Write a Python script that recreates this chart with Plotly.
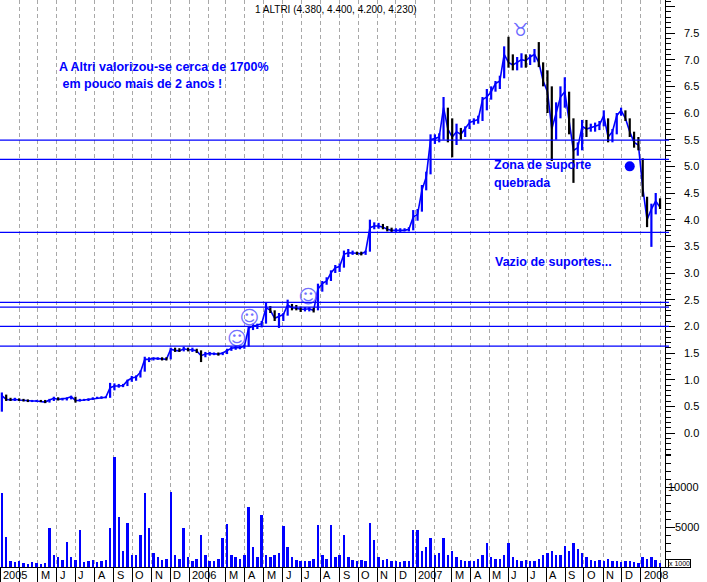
import plotly.graph_objects as go
import pandas as pd

# ---------------- data (weekly) ----------------
start_week = "2005-03-04"

high_2005 = [0.76,0.72,0.66,0.66,0.65,0.64,0.63,0.62,0.62,0.62,0.62,0.64,0.68,0.67,0.66,0.67,0.70,0.68,0.64,0.64,0.65,0.67,
             0.68,0.69,0.69,0.94,0.93,0.92,0.92,1.00,1.07,1.08,1.17,1.43,1.42,1.42,1.42,1.42,1.42,1.60,1.60,1.59,1.62,1.60]
low_2005 = [0.40,0.60,0.60,0.60,0.60,0.59,0.58,0.58,0.58,0.58,0.56,0.57,0.60,0.61,0.61,0.61,0.63,0.57,0.59,0.60,0.60,0.62,
            0.64,0.64,0.65,0.66,0.80,0.85,0.86,0.88,0.96,0.98,1.04,1.15,1.33,1.36,1.37,1.36,1.36,1.38,1.52,1.52,1.53,1.53]
close_2005 = [0.70,0.63,0.62,0.63,0.62,0.61,0.60,0.60,0.60,0.59,0.58,0.62,0.65,0.63,0.64,0.65,0.68,0.61,0.61,0.62,0.63,0.65,
              0.66,0.67,0.67,0.85,0.88,0.88,0.89,0.98,1.03,1.05,1.14,1.38,1.38,1.40,1.40,1.39,1.38,1.57,1.55,1.54,1.58,1.56]

high_2006 = [1.60,1.58,1.55,1.52,1.52,1.51,1.51,1.52,1.58,1.62,1.63,1.63,1.66,2.00,2.05,2.05,2.10,2.45,2.38,2.30,2.25,2.25,
             2.50,2.42,2.40,2.37,2.36,2.36,2.35,2.80,2.85,2.92,3.05,3.15,3.18,3.42,3.45,3.42,3.40,3.40,3.42,4.00,3.95,3.94,
             3.92,3.88,3.85,3.84,3.84,3.84,3.86,4.18]
low_2006 = [1.52,1.50,1.33,1.42,1.45,1.46,1.45,1.46,1.48,1.54,1.56,1.57,1.58,1.62,1.93,1.95,1.98,2.05,2.25,2.10,1.97,2.10,
            2.20,2.30,2.30,2.27,2.28,2.28,2.26,2.30,2.65,2.78,2.85,3.00,3.02,3.10,3.30,3.34,3.34,3.33,3.34,3.40,3.82,3.83,
            3.82,3.78,3.77,3.77,3.77,3.78,3.78,3.80]
close_2006 = [1.56,1.54,1.45,1.48,1.49,1.49,1.48,1.50,1.55,1.59,1.60,1.60,1.63,1.97,2.00,2.02,2.05,2.35,2.30,2.15,2.18,2.22,
              2.40,2.35,2.34,2.32,2.32,2.33,2.30,2.70,2.80,2.85,3.00,3.10,3.12,3.35,3.38,3.38,3.37,3.36,3.40,3.85,3.88,3.88,
              3.86,3.82,3.80,3.80,3.80,3.80,3.82,4.05]

high_2007 = [4.20,4.65,4.90,5.60,5.60,5.62,6.30,6.10,5.90,5.80,5.72,5.75,5.88,5.90,5.95,6.30,6.45,6.50,6.60,6.70,7.25,7.43,
             7.10,7.05,7.12,7.10,7.10,7.20,7.33,6.95,6.80,6.50,6.20,6.50,6.67,6.40,5.90,5.45,5.87,5.87,5.80,5.82,5.85,6.05,
             5.90,5.70,6.00,6.10,6.05,5.90,5.65,5.55]
low_2007 = [3.98,4.15,4.55,4.85,5.42,5.45,5.50,5.45,5.17,5.40,5.50,5.55,5.70,5.78,5.80,5.85,6.05,6.25,6.40,6.45,6.65,6.85,
            6.80,6.80,6.85,6.85,6.90,6.95,6.86,6.50,6.00,5.10,5.50,5.90,6.10,5.60,4.69,5.20,5.30,5.55,5.65,5.65,5.68,5.75,
            5.45,5.45,5.60,5.95,5.85,5.55,5.35,5.30]
close_2007 = [4.10,4.55,4.80,5.50,5.52,5.55,6.10,5.70,5.55,5.65,5.60,5.70,5.82,5.85,5.88,6.25,6.30,6.40,6.55,6.60,7.10,6.95,
              6.90,6.95,7.00,6.98,7.05,7.10,6.95,6.60,6.40,5.70,6.00,6.30,6.40,5.80,5.30,5.35,5.75,5.70,5.72,5.75,5.78,5.95,
              5.55,5.65,5.95,6.05,5.90,5.65,5.45,5.40]

high_2008 = [5.15,4.43,4.30,4.50,4.40]
low_2008 = [4.43,3.86,3.49,4.10,4.20]
close_2008 = [4.60,4.00,4.20,4.35,4.23]

vol_2005 = [9200,3800,800,600,700,500,400,600,500,400,500,4900,1500,1200,900,3100,1200,900,4600,600,700,900,
            600,800,900,4900,13700,6300,2000,5500,1500,1500,4000,9200,4900,1800,1200,900,1000,9400,1500,1000,4900,1200]
vol_2006 = [800,1000,4000,1500,800,700,1000,3600,5400,1500,1200,1000,1500,7500,2500,1200,6500,1500,1200,1500,1800,5100,
            2500,1200,900,800,800,700,1000,5300,1500,1000,5300,1200,1500,4000,1200,900,800,900,800,5500,3400,1200,
            900,1000,800,700,600,700,800,4600]
vol_2007 = [4600,2000,2500,3600,1500,1800,3600,1500,2000,1200,900,800,700,800,1000,1500,3000,1200,1000,1000,1500,3000,
            1200,900,800,900,800,700,1000,1500,1800,2000,1500,1500,2600,2000,3000,2200,1800,1200,900,800,900,700,
            1000,800,700,600,700,800,600,500]
vol_2008 = [1300,1000,1300,900,500]

support_levels = [5.49, 5.13, 3.76, 2.45, 2.36, 2.00, 1.63]

month_labels = ["2005", "", "M", "J", "J", "A", "S", "O", "N", "D",
                "2006", "", "M", "A", "M", "J", "J", "A", "S", "O", "N", "D",
                "2007", "", "M", "A", "M", "J", "J", "A", "S", "O", "N", "D",
                "2008", ""]
price_tick_vals = [0.0, 0.5, 1.0, 1.5, 2.0, 2.5, 3.0, 3.5, 4.0, 4.5, 5.0, 5.5, 6.0, 6.5, 7.0, 7.5]
vol_tick_vals = [5000, 10000]

smiley_dates = ["2006-03-19", "2006-04-08", "2006-07-12"]
smiley_prices = [1.74, 2.14, 2.52]
bull_date = ["2007-06-20"]
bull_price = [7.52]
dot_date = ["2007-12-14"]
dot_price = [5.0]

title_text = "1 ALTRI (4.380, 4.400, 4.200, 4.230)"

# ---------------- assemble ----------------
high = high_2005 + high_2006 + high_2007 + high_2008
low = low_2005 + low_2006 + low_2007 + low_2008
close = close_2005 + close_2006 + close_2007 + close_2008
vol = vol_2005 + vol_2006 + vol_2007 + vol_2008
n = len(close)
assert len(high) == n and len(low) == n and len(vol) == n
dates = pd.date_range(start_week, periods=n, freq="7D")
months = pd.date_range("2005-03-01", "2008-02-01", freq="MS")
assert len(months) == len(month_labels)

BLUE = "#0000ff"
up_x, up_y, dn_x, dn_y = [], [], [], []
for i in range(n):
    prev = close[i - 1] if i > 0 else low[i]
    if close[i] >= prev:
        up_x += [dates[i], dates[i], None]
        up_y += [low[i], high[i], None]
    else:
        dn_x += [dates[i], dates[i], None]
        dn_y += [low[i], high[i], None]

fig = go.Figure()
fig.add_trace(go.Scatter(x=dates, y=close, mode="lines", line=dict(color=BLUE, width=1.6),
                         xaxis="x", yaxis="y", hoverinfo="skip"))
fig.add_trace(go.Scatter(x=up_x, y=up_y, mode="lines", line=dict(color=BLUE, width=2.2),
                         xaxis="x", yaxis="y", hoverinfo="skip"))
fig.add_trace(go.Scatter(x=dn_x, y=dn_y, mode="lines", line=dict(color="#000000", width=2.2),
                         xaxis="x", yaxis="y", hoverinfo="skip"))
fig.add_trace(go.Bar(x=dates, y=vol, marker=dict(color=BLUE, line=dict(width=0)),
                     width=4 * 86400000, xaxis="x", yaxis="y2", hoverinfo="skip"))
fig.add_trace(go.Scatter(x=smiley_dates, y=smiley_prices, mode="text", text=["☺"] * len(smiley_dates),
                         textfont=dict(size=19, color="#7070ff", family="DejaVu Sans"),
                         xaxis="x", yaxis="y", hoverinfo="skip"))
fig.add_trace(go.Scatter(x=bull_date, y=bull_price, mode="text", text=["♉"],
                         textfont=dict(size=18, color="#6a6aff", family="DejaVu Sans"),
                         xaxis="x", yaxis="y", hoverinfo="skip"))
fig.add_trace(go.Scatter(x=dot_date, y=dot_price, mode="markers",
                         marker=dict(color=BLUE, size=10),
                         xaxis="x", yaxis="y", hoverinfo="skip"))

shapes = []
for lv in support_levels:
    shapes.append(dict(type="line", xref="paper", yref="y", x0=0, x1=1.006, y0=lv, y1=lv,
                       line=dict(color=BLUE, width=1.3), layer="above"))

FONT = "Liberation Sans, Arial, sans-serif"
annotations = []
for d, lab in zip(months, month_labels):
    if lab:
        annotations.append(dict(x=d, xref="x", y=-0.0145, yref="paper", text=lab, showarrow=False,
                                xanchor="left", yanchor="middle", xshift=1,
                                font=dict(family=FONT, size=11, color="black")))
for v in price_tick_vals:
    annotations.append(dict(x=1.054, xref="paper", y=v, yref="y", text=f"{v:.1f}", showarrow=False,
                            xanchor="right", yanchor="middle",
                            font=dict(family=FONT, size=11, color="black")))
for v in vol_tick_vals:
    annotations.append(dict(x=1.054, xref="paper", y=v, yref="y2", text=f"{v}", showarrow=False,
                            xanchor="right", yanchor="middle",
                            font=dict(family=FONT, size=11, color="black")))
annotations.append(dict(x=1.004, xref="paper", y=0.007, yref="paper", text="x 1000", showarrow=False,
                        xanchor="left", yanchor="middle", bordercolor="black", borderwidth=1, borderpad=0,
                        bgcolor="white", font=dict(family=FONT, size=7, color="black")))
annotations.append(dict(x=0.505, xref="paper", y=0.984, yref="paper", text=title_text, showarrow=False,
                        xanchor="center", yanchor="middle",
                        font=dict(family=FONT, size=10, color="black")))

txt_font = dict(family=FONT, size=12.5, color=BLUE)
for txt, px, py in [("<b>A Altri valorizou-se cerca de 1700%</b>", 57, 67),
                    ("<b> em pouco mais de 2 anos !</b>", 57, 84),
                    ("<b>Zona de suporte</b>", 492, 165),
                    ("<b>quebrada</b>", 492, 183),
                    ("<b>Vazio de suportes...</b>", 493, 262)]:
    annotations.append(dict(x=px / 665, xref="paper", y=(567 - py) / 567, yref="paper", text=txt,
                            showarrow=False, xanchor="left", yanchor="middle", font=txt_font))

vdom = (567 - 455) / 567
fig.update_layout(
    width=707, height=582,
    margin=dict(l=0, r=42, t=0, b=15),
    paper_bgcolor="white", plot_bgcolor="white",
    showlegend=False, bargap=0,
    xaxis=dict(type="date", range=["2005-03-01", "2008-02-09"], anchor="y2",
               showgrid=True, gridcolor="#a8a8a8", griddash="4px,3px", gridwidth=1,
               tick0="2005-03-01", dtick="M1", ticks="outside", ticklen=15, tickcolor="black",
               showticklabels=False, showline=True, linecolor="black", linewidth=1, zeroline=False),
    yaxis=dict(domain=[vdom, 1], range=[-0.4125, 8.119], side="right", anchor="x",
               showgrid=False, zeroline=False, showticklabels=False,
               ticks="outside", ticklen=9, tick0=0, dtick=0.5, tickcolor="black",
               minor=dict(ticks="outside", ticklen=5, dtick=0.1, tickcolor="black", showgrid=False),
               showline=True, linecolor="black", linewidth=1),
    yaxis2=dict(domain=[0, vdom], range=[0, 14000], side="right", anchor="x",
                showgrid=False, zeroline=False, showticklabels=False,
                ticks="outside", ticklen=9, tick0=0, dtick=5000, tickcolor="black",
                minor=dict(ticks="outside", ticklen=5, dtick=1000, tickcolor="black", showgrid=False),
                showline=True, linecolor="black", linewidth=1),
    shapes=shapes, annotations=annotations,
)

fig.write_html("out.html", config={"displayModeBar": False},
               post_script="document.body.style.margin='0';document.body.style.overflow='hidden';")
